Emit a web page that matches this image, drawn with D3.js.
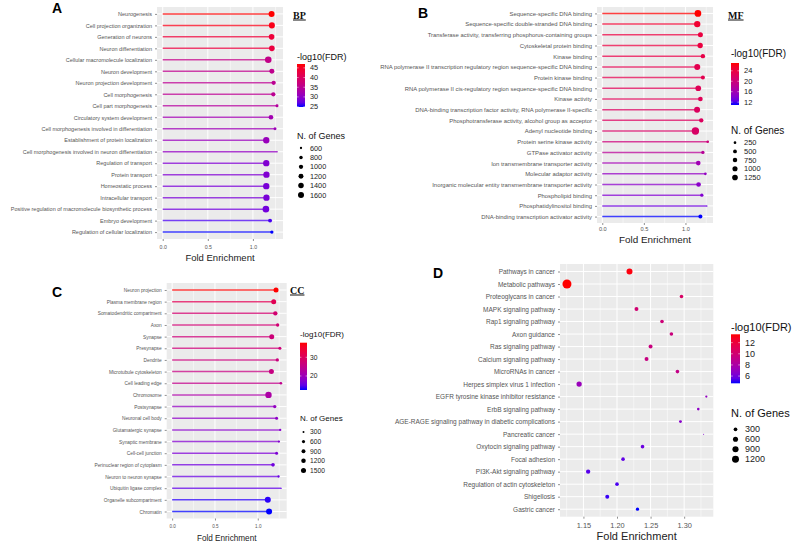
<!DOCTYPE html>
<html><head><meta charset="utf-8">
<script src="https://cdn.jsdelivr.net/npm/d3@7"></script>
<style>body{margin:0;background:#fff}svg{display:block;font-family:"Liberation Sans",Arial,sans-serif}</style>
</head><body><svg id="chart" width="793" height="545"></svg>
<script>
// ---------- Panel A : BP ----------
const bpTerms = ["Neurogenesis","Cell projection organization","Generation of neurons","Neuron differentiation","Cellular macromolecule localization","Neuron development","Neuron projection development","Cell morphogenesis","Cell part morphogenesis","Circulatory system development","Cell morphogenesis involved in differentiation","Establishment of protein localization","Cell morphogenesis involved in neuron differentiation","Regulation of transport","Protein transport","Homeostatic process","Intracellular transport","Positive regulation of macromolecule biosynthetic process","Embryo development","Regulation of cellular localization"];
const bpFold = [1.207,1.21,1.207,1.21,1.17,1.21,1.23,1.226,1.267,1.2,1.245,1.148,1.27,1.148,1.15,1.148,1.15,1.144,1.19,1.21];
const bpFDR = [47,46,43.5,43,36,35.5,35,35,34,32,31.5,31,30.5,29,29,28.5,28.5,28,26,24.8];
const bpGenes = [1600,1600,1460,1460,1850,1210,1000,1000,700,1100,700,1750,530,1750,1750,1750,1750,1870,910,760];
const bpFdrTicks = [25,30,35,40,45];
const bpGeneTicks = [600,800,1000,1200,1400,1600];

// ---------- Panel B : MF ----------
const mfTerms = ["Sequence-specific DNA binding","Sequence-specific double-stranded DNA binding","Transferase activity, transferring phosphorus-containing groups","Cytoskeletal protein binding","Kinase binding","RNA polymerase II transcription regulatory region sequence-specific DNA binding","Protein kinase binding","RNA polymerase II cis-regulatory region sequence-specific DNA binding","Kinase activity","DNA-binding transcription factor activity, RNA polymerase II-specific","Phosphotransferase activity, alcohol group as acceptor","Adenyl nucleotide binding","Protein serine kinase activity","GTPase activator activity","Ion transmembrane transporter activity","Molecular adaptor activity","Inorganic molecular entity transmembrane transporter activity","Phospholipid binding","Phosphatidylinositol binding","DNA-binding transcription activator activity"];
const mfFold = [1.15,1.142,1.18,1.177,1.21,1.142,1.21,1.154,1.18,1.14,1.19,1.12,1.268,1.21,1.154,1.24,1.158,1.197,1.26,1.18];
const mfFDR = [27,25,24,24,23.5,23,23,22.5,22.5,22,22,21.5,20,18,16,15,14.5,14,13,10.9];
const mfGenes = [1800,1600,950,1090,690,1420,580,1250,810,1420,690,2260,250,390,810,250,810,390,100,580];
const mfFdrTicks = [12,16,20,24];
const mfGeneTicks = [250,500,750,1000,1250];

// ---------- Panel C : CC ----------
const ccTerms = ["Neuron projection","Plasma membrane region","Somatodendritic compartment","Axon","Synapse","Presynapse","Dendrite","Microtubule cytoskeleton","Cell leading edge","Chromosome","Postsynapse","Neuronal cell body","Glutamatergic synapse","Synaptic membrane","Cell-cell junction","Perinuclear region of cytoplasm","Neuron to neuron synapse","Ubiquitin ligase complex","Organelle subcompartment","Chromatin"];
const ccFold = [1.213,1.186,1.205,1.232,1.163,1.258,1.228,1.159,1.27,1.125,1.198,1.22,1.262,1.247,1.22,1.178,1.243,1.274,1.117,1.132];
const ccFDR = [37.8,31,28,27.5,27,27,26.5,26,25,22,19,18.5,18,17.5,17,16,15.5,15,13,12.5];
const ccGenes = [1500,1500,1110,655,1500,540,655,1500,440,2550,655,540,360,360,540,790,360,220,2220,2220];
const ccFdrTicks = [20,30];
const ccGeneTicks = [300,600,900,1200,1500];

// ---------- Panel D : KEGG ----------
const keggTerms = ["Pathways in cancer","Metabolic pathways","Proteoglycans in cancer","MAPK signaling pathway","Rap1 signaling pathway","Axon guidance","Ras signaling pathway","Calcium signaling pathway","MicroRNAs in cancer","Herpes simplex virus 1 infection","EGFR tyrosine kinase inhibitor resistance","ErbB signaling pathway","AGE-RAGE signaling pathway in diabetic complications","Pancreatic cancer","Oxytocin signaling pathway","Focal adhesion","PI3K-Akt signaling pathway","Regulation of actin cytoskeleton","Shigellosis","Gastric cancer"];
const keggFold = [1.2186,1.1255,1.296,1.229,1.267,1.281,1.25,1.244,1.29,1.1436,1.333,1.321,1.2945,1.329,1.238,1.209,1.157,1.2,1.1855,1.2305];
const keggFDR = [13.3,13.5,10.5,10,9.8,9.6,9.5,9.4,9.2,7.2,7,6.8,6.6,6.4,5.8,5.6,5.4,5.2,5,4.7];
const keggGenes = [850,2080,290,350,290,290,350,350,290,655,126,157,196,75,290,290,420,290,350,241];
const keggFdrTicks = [6,8,10,12];
const keggGeneTicks = [300,600,900,1200];

const lollipopTicks = [0, 0.5, 1.0];
const keggTicks = [1.15, 1.20, 1.25, 1.30];

const svg = d3.select("#chart");
const defs = svg.append("defs");

function drawPanel(p) {
  const g = svg.append("g");
  const b = p.box;
  let xDom;
  if (p.lollipop) {
    const mx = d3.max(p.fold);
    xDom = [-0.05 * mx, mx * 1.05];
  } else {
    const ext = d3.extent(p.fold), r = ext[1] - ext[0];
    xDom = [ext[0] - 0.05 * r, ext[1] + 0.05 * r];
  }
  const x = d3.scaleLinear().domain(xDom).range([b.x0, b.x1]);
  const y = d3.scalePoint().domain(p.terms).range([b.y0, b.y1]).padding(0.6);
  const col = d3.scaleLinear().domain(d3.extent(p.fdr)).range(["blue", "red"]).interpolate(d3.interpolateLab);
  const tS = d3.scaleLinear().domain(d3.extent(p.genes)).range([0, 1]).clamp(true);
  const rS = d3.scaleLinear().domain([0, 1]).range(p.rRange);
  const rad = v => rS(Math.sqrt(tS(v)));

  g.append("rect").attr("x", b.x0).attr("y", b.y0).attr("width", b.x1 - b.x0).attr("height", b.y1 - b.y0).attr("fill", "#ebebeb");
  const step = p.xTicks[1] - p.xTicks[0];
  const minors = [];
  for (let v = p.xTicks[0] - step / 2; v <= xDom[1]; v += step) if (v >= xDom[0]) minors.push(v);
  g.selectAll(".minor").data(minors).join("line").attr("x1", d => x(d)).attr("x2", d => x(d))
    .attr("y1", b.y0).attr("y2", b.y1).attr("stroke", "#fff").attr("stroke-width", 0.5);
  g.selectAll(".major").data(p.xTicks).join("line").attr("x1", d => x(d)).attr("x2", d => x(d))
    .attr("y1", b.y0).attr("y2", b.y1).attr("stroke", "#fff").attr("stroke-width", 1);
  g.selectAll(".hgrid").data(p.terms).join("line").attr("x1", b.x0).attr("x2", b.x1)
    .attr("y1", d => y(d)).attr("y2", d => y(d)).attr("stroke", "#fff").attr("stroke-width", 1);

  const rows = p.terms.map((t, i) => ({ t, f: p.fold[i], q: p.fdr[i], n: p.genes[i] }));
  if (p.lollipop) {
    g.selectAll(".seg").data(rows).join("line").attr("x1", x(0)).attr("x2", d => x(d.f))
      .attr("y1", d => y(d.t)).attr("y2", d => y(d.t)).attr("stroke", d => col(d.q))
      .attr("stroke-width", 1.5).attr("stroke-opacity", 0.75);
  }
  g.selectAll(".dot").data(rows).join("circle").attr("cx", d => x(d.f)).attr("cy", d => y(d.t))
    .attr("r", d => rad(d.n)).attr("fill", d => col(d.q));

  const xa = g.append("g").attr("transform", `translate(0,${b.y1})`)
    .call(d3.axisBottom(x).tickValues(p.xTicks).tickFormat(d3.format(p.xFmt)).tickSize(2).tickPadding(p.xPad));
  const ya = g.append("g").attr("transform", `translate(${b.x0},0)`)
    .call(d3.axisLeft(y).tickSize(2).tickPadding(3));
  [xa, ya].forEach(a => {
    a.attr("font-family", null);
    a.select(".domain").remove();
    a.selectAll("line").attr("stroke", "#444").attr("stroke-width", 0.6);
    a.selectAll("text").attr("fill", "#555");
  });
  xa.attr("font-size", p.xFont);
  ya.attr("font-size", p.yFont);

  g.append("text").attr("x", (b.x0 + b.x1) / 2).attr("y", p.titleY).attr("text-anchor", "middle")
    .attr("font-size", p.titleFont).attr("fill", "#222").text("Fold Enrichment");

  g.append("text").attr("x", p.letter[0]).attr("y", p.letter[1]).attr("font-size", 14).attr("font-weight", "bold")
    .attr("fill", "#000").text(p.letterText);
  if (p.tag) {
    g.append("text").attr("x", p.tag[0]).attr("y", p.tag[1]).attr("font-size", 10).attr("font-weight", "bold")
      .attr("font-family", "'Liberation Serif','Times New Roman',serif").style("text-decoration", "underline")
      .attr("fill", "#111").text(p.tagText);
  }

  const L = p.leg;
  g.append("text").attr("x", L.x).attr("y", L.cTitleY).attr("font-size", L.titleFont).attr("fill", "#111").text("-log10(FDR)");
  const gid = "grad" + p.letterText;
  const lg = defs.append("linearGradient").attr("id", gid).attr("x1", 0).attr("x2", 0).attr("y1", 1).attr("y2", 0);
  const dom = col.domain();
  d3.range(0, 1.0001, 0.1).forEach(t => lg.append("stop").attr("offset", t).attr("stop-color", col(dom[0] + t * (dom[1] - dom[0]))));
  g.append("rect").attr("x", L.x).attr("y", L.barY0).attr("width", L.barW).attr("height", L.barY1 - L.barY0).attr("fill", `url(#${gid})`);
  const cy = d3.scaleLinear().domain(dom).range([L.barY1, L.barY0]);
  p.fdrTicks.forEach(t => {
    g.append("line").attr("x1", L.x).attr("x2", L.x + L.barW * 0.2).attr("y1", cy(t)).attr("y2", cy(t)).attr("stroke", "#fff").attr("stroke-width", 0.5);
    g.append("line").attr("x1", L.x + L.barW * 0.8).attr("x2", L.x + L.barW).attr("y1", cy(t)).attr("y2", cy(t)).attr("stroke", "#fff").attr("stroke-width", 0.5);
    g.append("text").attr("x", L.labelX).attr("y", cy(t)).attr("dy", "0.35em").attr("font-size", L.labelFont).attr("fill", "#222").text(t);
  });

  g.append("text").attr("x", L.x).attr("y", L.sTitleY).attr("font-size", L.titleFont).attr("fill", "#111").text("N. of Genes");
  p.geneTicks.forEach((v, i) => {
    const yy = L.sY0 + i * L.sStep;
    g.append("circle").attr("cx", L.x + L.barW / 2).attr("cy", yy).attr("r", rad(v)).attr("fill", "#000");
    g.append("text").attr("x", L.labelX).attr("y", yy).attr("dy", "0.35em").attr("font-size", L.labelFont).attr("fill", "#222").text(v);
  });
}

drawPanel({
  terms: bpTerms, fold: bpFold, fdr: bpFDR, genes: bpGenes, fdrTicks: bpFdrTicks, geneTicks: bpGeneTicks,
  lollipop: true, xTicks: lollipopTicks, xFmt: ".1f", box: { x0: 157, x1: 283, y0: 7, y1: 239 },
  rRange: [0.5, 3.3], xFont: 5.2, xPad: 4, yFont: 5.5, titleFont: 9.5, titleY: 261,
  letter: [52, 13], letterText: "A", tag: [293, 18.5], tagText: "BP",
  leg: { x: 297, barW: 8, cTitleY: 60, barY0: 64, barY1: 107, labelX: 310, labelFont: 7.3, titleFont: 9,
         sTitleY: 138.5, sY0: 148, sStep: 9.4 }
});
drawPanel({
  terms: mfTerms, fold: mfFold, fdr: mfFDR, genes: mfGenes, fdrTicks: mfFdrTicks, geneTicks: mfGeneTicks,
  lollipop: true, xTicks: lollipopTicks, xFmt: ".1f", box: { x0: 597, x1: 713, y0: 7, y1: 223 },
  rRange: [0.5, 3.7], xFont: 5.6, xPad: 2, yFont: 5.9, titleFont: 9.9, titleY: 243,
  letter: [418, 18], letterText: "B", tag: [728, 18.5], tagText: "MF",
  leg: { x: 731, barW: 8, cTitleY: 57, barY0: 63, barY1: 105, labelX: 744, labelFont: 7.5, titleFont: 10,
         sTitleY: 133.5, sY0: 142.7, sStep: 8.7 }
});
drawPanel({
  terms: ccTerms, fold: ccFold, fdr: ccFDR, genes: ccGenes, fdrTicks: ccFdrTicks, geneTicks: ccGeneTicks,
  lollipop: true, xTicks: lollipopTicks, xFmt: ".1f", box: { x0: 166.7, x1: 286.7, y0: 283, y1: 518.5 },
  rRange: [0.5, 3.2], xFont: 4.6, xPad: 4.5, yFont: 4.8, titleFont: 8.2, titleY: 541,
  letter: [52, 297], letterText: "C", tag: [290, 293.5], tagText: "CC",
  leg: { x: 300, barW: 7, cTitleY: 337, barY0: 342.7, barY1: 390, labelX: 310, labelFont: 6.7, titleFont: 8,
         sTitleY: 420.5, sY0: 432, sStep: 9.6 }
});
drawPanel({
  terms: keggTerms, fold: keggFold, fdr: keggFDR, genes: keggGenes, fdrTicks: keggFdrTicks, geneTicks: keggGeneTicks,
  lollipop: false, xTicks: keggTicks, xFmt: ".2f", box: { x0: 560, x1: 713.3, y0: 264, y1: 516.7 },
  rRange: [0.5, 4.5], xFont: 7.4, xPad: 4.4, yFont: 6.5, titleFont: 11, titleY: 540,
  letter: [433, 278], letterText: "D", tag: null,
  leg: { x: 731, barW: 9, cTitleY: 330.5, barY0: 334.3, barY1: 383.3, labelX: 745, labelFont: 9, titleFont: 11,
         sTitleY: 417, sY0: 429.3, sStep: 10 }
});
</script></body></html>
